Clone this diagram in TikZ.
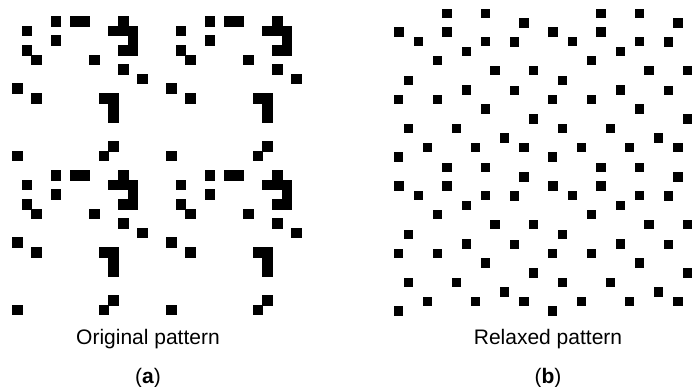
\documentclass[tikz,border=0pt]{standalone}
\usepackage{fontspec}
\setmainfont{Liberation Sans}
\begin{document}
\begin{tikzpicture}[x=1pt,y=-1pt]
\useasboundingbox (0,0) rectangle (695,387);
\tikzset{cellbox/.style={fill=black,draw=black,line width=0.3pt},
         dotbox/.style={fill=black},
         captext/.style={font=\fontsize{21}{25}\selectfont,anchor=base,inner sep=0pt}}
\def\cell{9.625}
\def\per{154}
% original pattern: 2x2 tiling of one tile on a grid
\foreach \tx in {0,1}{\foreach \ty in {0,1}{
  \foreach \c/\r in {4/0,6/0,7/0,11/0,1/1,10/1,11/1,12/1,12/2,11/3,12/3,4/2,1/3,2/4,8/4,11/5,13/6,0/7,2/8,9/8,10/8,10/9,10/10,10/13,9/14,0/14}{
    \path[cellbox] (12.3+\tx*\per+\c*\cell, 16.2+\ty*\per+\r*\cell) rectangle ++(\cell,\cell);
  }}}
% relaxed pattern: 2x2 tiling of one tile
\foreach \tx in {0,1}{\foreach \ty in {0,1}{
  \foreach \x/\y in {447/13.3,485.7/13.3,524/23,399/32,447/32,418.3/41.3,485.7/41.7,514.7/42,466.3/51.3,437.3/60.7,495/70.7,533.7/70.7,408.7/80.3,466.3/90,514.7/90.3,398.7/99.7,437.3/99.7,485.3/109,533.7/119,408.7/128.7,456.7/128.7,504.7/138,427.3/147.3,475.7/147.3,524/147.3,398.3/157}{
    \path[dotbox] (\x+\tx*\per-4.75, \y+\ty*\per-4.75) rectangle ++(9.5,9.5);
  }}}
\node[captext] (capa) at (148,344) {Original pattern};
\node[captext] (capb) at (548,344) {Relaxed pattern};
\node[captext] (laba) at (148,383) {(\textbf{a})};
\node[captext] (labb) at (548,383) {(\textbf{b})};
\end{tikzpicture}
\end{document}
